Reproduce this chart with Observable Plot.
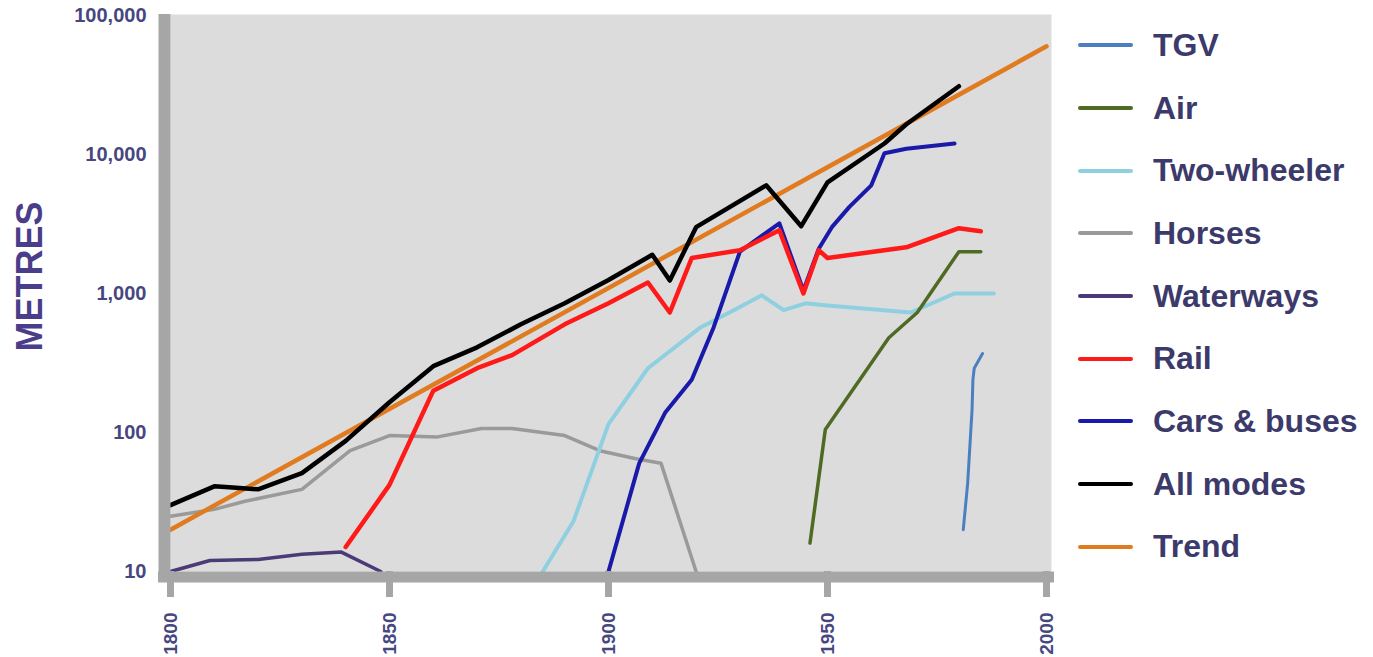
<!DOCTYPE html>
<html>
<head>
<meta charset="utf-8">
<script src="https://cdn.jsdelivr.net/npm/d3@7"></script>
<script src="https://cdn.jsdelivr.net/npm/@observablehq/plot@0.6"></script>
<style>
  body { margin: 0; background: #fff; }
  #wrap { position: relative; width: 1373px; height: 657px; overflow: hidden; font-family: "Liberation Sans", Arial, sans-serif; }
  #legend { position: absolute; left: 1078px; top: 14px; }
  .row { height: 62.7px; display: flex; align-items: center; }
  .sw { width: 55px; height: 4px; border-radius: 2px; margin-right: 20px; }
  .lab { font-size: 32px; font-weight: bold; color: #3b3a6b; white-space: nowrap; }
</style>
</head>
<body>
<div id="wrap"></div>
<script>
// ---- data ----
const seriesNames = ["TGV", "Air", "Two-wheeler", "Horses", "Waterways", "Rail", "Cars & buses", "All modes", "Trend"];
const seriesColors = ["#4a7fc1", "#4f6b23", "#8fd0e0", "#9a9a9a", "#4a3a78", "#ff1a1a", "#1a1aaa", "#000000", "#e07b20"];
const drawOrder = ["Waterways", "Horses", "Two-wheeler", "Air", "TGV", "Cars & buses", "Rail", "Trend", "All modes"];

const tgvYears = [1981, 1982, 1983, 1983.2, 1983.5, 1985.4];
const tgvValues = [20, 43, 145, 240, 290, 370];

const airYears = [1946, 1949.5, 1964, 1970.5, 1980, 1985];
const airValues = [16, 105, 480, 730, 2000, 2000];

const twoWheelerYears = [1885, 1892, 1900, 1909, 1921, 1930, 1935, 1940, 1945, 1950, 1969, 1979, 1988];
const twoWheelerValues = [10, 23, 115, 290, 570, 800, 970, 760, 850, 820, 730, 1000, 1000];

const horsesYears = [1800, 1810, 1817, 1830, 1841, 1850, 1861, 1871, 1878, 1890, 1898, 1906, 1912, 1920];
const horsesValues = [25, 28, 32, 39, 74, 95, 93, 107, 107, 95, 74, 65, 60, 10];

const waterwaysYears = [1800, 1809, 1820, 1830, 1839, 1848];
const waterwaysValues = [10, 12, 12.2, 13.3, 13.8, 10];

const railYears = [1840, 1850, 1860, 1870, 1878, 1890, 1900, 1909, 1914, 1919, 1930, 1939, 1944.5, 1948, 1950, 1968, 1980, 1985];
const railValues = [15, 42, 200, 290, 360, 600, 850, 1200, 730, 1800, 2050, 2850, 1000, 2050, 1800, 2150, 2950, 2800];

const carsYears = [1900, 1907, 1913, 1919, 1924, 1930, 1939, 1944.5, 1948, 1951, 1955, 1960, 1963, 1968, 1979];
const carsValues = [10, 60, 140, 240, 570, 2000, 3200, 1050, 2100, 3000, 4200, 6000, 10200, 11000, 12000];

const allYears = [1800, 1810, 1815, 1820, 1830, 1840, 1850, 1860, 1870, 1880, 1890, 1900, 1910, 1914, 1920, 1936, 1944, 1950, 1963, 1968, 1980];
const allValues = [30, 41, 40, 39, 51, 87, 165, 300, 410, 600, 850, 1250, 1900, 1240, 3000, 6000, 3050, 6300, 12000, 16500, 31000];

const trendYears = [1800, 2000];
const trendValues = [20, 60000];

const xTicks = [1800, 1850, 1900, 1950, 2000];
const yTicks = [10, 100, 1000, 10000, 100000];
const yTitle = "METRES";

// ---- build table ----
const src = {
  "TGV": [tgvYears, tgvValues],
  "Air": [airYears, airValues],
  "Two-wheeler": [twoWheelerYears, twoWheelerValues],
  "Horses": [horsesYears, horsesValues],
  "Waterways": [waterwaysYears, waterwaysValues],
  "Rail": [railYears, railValues],
  "Cars & buses": [carsYears, carsValues],
  "All modes": [allYears, allValues],
  "Trend": [trendYears, trendValues]
};
const widths = {"TGV": 3, "Air": 3.5, "Two-wheeler": 4, "Horses": 3.5, "Waterways": 3.5, "Rail": 4.5, "Cars & buses": 4, "All modes": 4.5, "Trend": 4.5};

const lineMarks = drawOrder.map(name => {
  const [xs, vs] = src[name];
  const rows = xs.map((x, i) => ({series: name, year: x, value: vs[i]}));
  return Plot.line(rows, {x: "year", y: "value", stroke: "series", strokeWidth: widths[name], strokeLinejoin: "round", strokeLinecap: "round"});
});

const tickColor = "#47477f";
const barColor = "#a6a6a6";

const chart = Plot.plot({
  width: 1373,
  height: 657,
  marginLeft: 170,
  marginRight: 327,
  marginTop: 15,
  marginBottom: 86,
  style: {fontFamily: "'Liberation Sans', Arial, sans-serif", background: "white"},
  x: {domain: [1800, 2000]},
  y: {type: "log", domain: [10, 100000]},
  color: {domain: seriesNames, range: seriesColors},
  marks: [
    Plot.frame({fill: "#dcdcdc", stroke: null, insetRight: -5, insetTop: -1}),
    ...lineMarks,
    Plot.ruleX([1800], {stroke: barColor, strokeWidth: 12, dx: -6, insetTop: -1, insetBottom: -11}),
    Plot.ruleY([10], {stroke: barColor, strokeWidth: 11, dy: 5.5, insetLeft: -12, insetRight: -8}),
    Plot.axisX({ticks: xTicks, tickFormat: d => String(d), tickRotate: -90, tickSize: 26, tickPadding: 15,
      stroke: barColor, strokeWidth: 7, fill: tickColor, fontSize: 19, fontWeight: "bold", label: null}),
    Plot.axisY({ticks: yTicks, tickFormat: d3.format(","), tickSize: 0, tickPadding: 24,
      fill: tickColor, fontSize: 20, fontWeight: "bold", label: null}),
    Plot.text([yTitle], {frameAnchor: "left", dx: -140, dy: -17, rotate: -90, textAnchor: "middle",
      fontSize: 36, fontWeight: "bold", fill: "#4a3d8a"})
  ]
});

const wrap = document.getElementById("wrap");
wrap.appendChild(chart);

const legend = document.createElement("div");
legend.id = "legend";
seriesNames.forEach((name, i) => {
  const row = document.createElement("div");
  row.className = "row";
  const sw = document.createElement("div");
  sw.className = "sw";
  sw.style.background = seriesColors[i];
  const lab = document.createElement("div");
  lab.className = "lab";
  lab.textContent = name;
  row.appendChild(sw);
  row.appendChild(lab);
  legend.appendChild(row);
});
wrap.appendChild(legend);
</script>
</body>
</html>
